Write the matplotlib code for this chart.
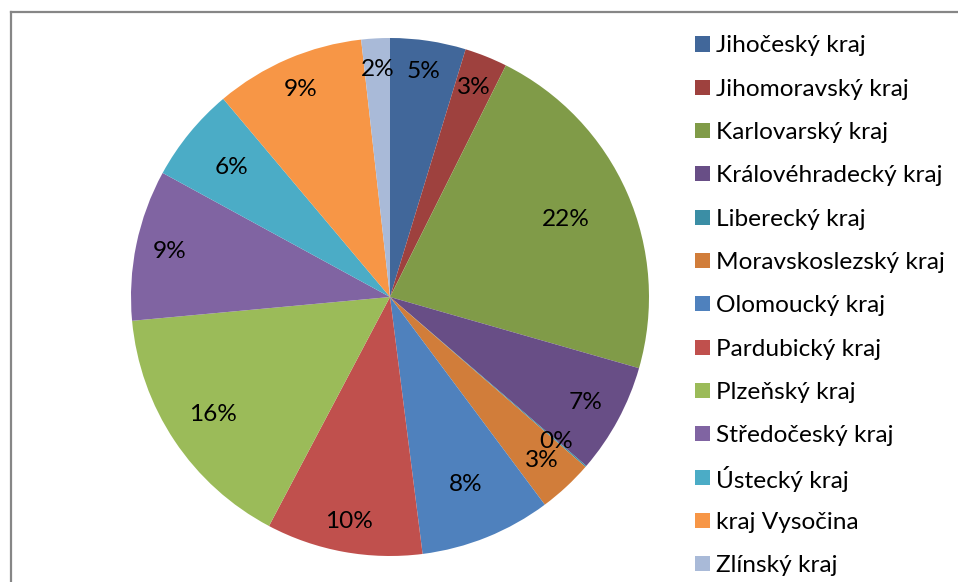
import matplotlib
matplotlib.use("Agg")
import matplotlib.pyplot as plt
from matplotlib.patches import Rectangle
from matplotlib.lines import Line2D
import numpy as np

plt.rcParams['font.family'] = ['Lato', 'DejaVu Sans']

regions = ["Jihočeský kraj", "Jihomoravský kraj", "Karlovarský kraj",
           "Královéhradecký kraj", "Liberecký kraj", "Moravskoslezský kraj",
           "Olomoucký kraj", "Pardubický kraj", "Plzeňský kraj",
           "Středočeský kraj", "Ústecký kraj", "kraj Vysočina", "Zlínský kraj"]
shares = [4.72, 2.67, 22.06, 6.88, 0.08, 3.42, 8.19, 9.75, 15.81, 9.42, 5.92, 9.36, 1.78]

colors = ["#41679A", "#9E413E", "#809B48", "#684E86", "#3B8EA5", "#D17D3A",
          "#4F81BD", "#C0504D", "#9BBB59", "#8064A2", "#4BACC6", "#F79646", "#A9BAD8"]
# radial position of each percentage label (fraction of the radius)
label_r = [0.88, 0.87, 0.74, 0.86, 0.85, 0.86, 0.78, 0.88, 0.82, 0.87, 0.79, 0.87, 0.88]

W, H = 958, 582
FS = 17.6
fig = plt.figure(figsize=(W / 100, H / 100), dpi=100)

# chart-area frame (left and top edges visible)
fig.add_artist(Line2D([10.5 / W, 10.5 / W], [0, 1 - 12 / H], color="#868686", lw=1.6))
fig.add_artist(Line2D([10.5 / W, 1], [1 - 12 / H, 1 - 12 / H], color="#868686", lw=1.6))

cx, cy, r = 390, 297, 259
ax = fig.add_axes([(cx - r) / W, 1 - (cy + r) / H, 2 * r / W, 2 * r / H])
wedges, _ = ax.pie(shares, colors=colors, startangle=90, counterclock=False,
                   radius=1, wedgeprops=dict(linewidth=0))
ax.set_xlim(-1, 1)
ax.set_ylim(-1, 1)
ax.set_aspect('equal')
ax.axis('off')

total = sum(shares)
for w, val, lr in zip(wedges, shares, label_r):
    mid = np.deg2rad((w.theta1 + w.theta2) / 2)
    ax.text(lr * np.cos(mid), lr * np.sin(mid), f"{val / total * 100:.0f}%",
            ha="center", va="center", fontsize=FS, color="black")

# legend
x0, y0, step = 695, 44, 43.3
for i, (name, col) in enumerate(zip(regions, colors)):
    yc = y0 + i * step
    fig.add_artist(Rectangle((x0 / W, 1 - (yc + 7.5) / H), 15 / W, 15 / H,
                             transform=fig.transFigure, facecolor=col, edgecolor="none"))
    fig.text(716 / W, 1 - yc / H, name, ha="left", va="center_baseline",
             fontsize=FS, color="black")

fig.savefig("out.png", dpi=100)
